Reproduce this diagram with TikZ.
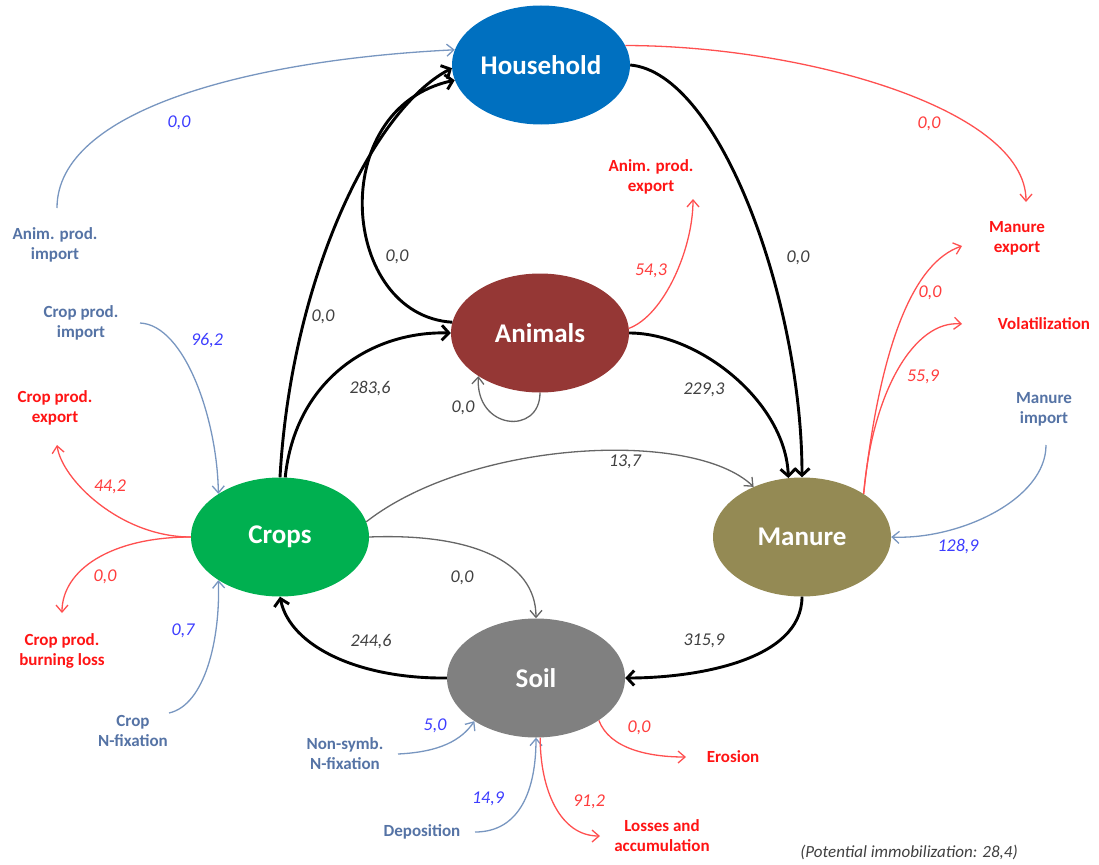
\documentclass[tikz,border=0pt]{standalone}
\usepackage{fontspec}
\setmainfont{Carlito}
\usetikzlibrary{arrows.meta,shapes.geometric}

\definecolor{hhblue}{RGB}{0,112,192}
\definecolor{anired}{RGB}{149,55,53}
\definecolor{cropgreen}{RGB}{0,176,80}
\definecolor{manolive}{RGB}{148,138,84}
\definecolor{soilgray}{RGB}{128,128,128}
\definecolor{inline}{RGB}{120,150,192}
\definecolor{intext}{RGB}{85,115,165}
\definecolor{invalc}{RGB}{60,60,255}
\definecolor{outline}{RGB}{255,80,80}
\definecolor{outtext}{RGB}{255,20,20}
\definecolor{outvalc}{RGB}{255,60,60}
\definecolor{numgray}{RGB}{64,64,64}

\begin{document}
\begin{tikzpicture}[x=1pt,y=-1pt,>={Straight Barb[length=7pt,width=12pt]},
    pool/.style={ellipse,minimum width=178pt,minimum height=119pt,inner sep=0pt,
      text=white,font=\bfseries\fontsize{27}{32}\selectfont},
    src/.style={align=center,text=intext,font=\bfseries\fontsize{17}{20}\selectfont},
    sink/.style={align=center,text=outtext,font=\bfseries\fontsize{17}{20}\selectfont},
    val/.style={font=\itshape\fontsize{18}{20}\selectfont,text=numgray},
    inval/.style={val,text=invalc},
    outval/.style={val,text=outvalc},
    flow/.style={line width=2.9pt,-{Straight Barb[length=7pt,width=15pt]}},
    minor/.style={line width=1.3pt,draw=gray!80!black},
    inflow/.style={line width=1.3pt,draw=inline},
    outflow/.style={line width=1.3pt,draw=outline},
    cc/.style 2 args={to path={.. controls +(#1) and +(#2) .. (\tikztotarget) \tikztonodes}}]
    \useasboundingbox (0,0) rectangle (1099,864);

    \node[pool,fill=hhblue]    (H) at (541,65)  {Household};
    \node[pool,fill=anired]    (A) at (540,333) {Animals};
    \node[pool,fill=cropgreen] (C) at (280,537) {Crops};
    \node[pool,fill=manolive]  (M) at (802,537) {Manure};
    \node[pool,fill=soilgray]  (S) at (536,678) {Soil};

    \node[src]  (aimp) at (55,245)   {Anim. prod.\\import};
    \node[src]  (cimp) at (81,323)   {Crop prod.\\import};
    \node[src]  (cfix) at (133,731)  {Crop\\N-fixation};
    \node[src]  (nfix) at (345,754)  {Non-symb.\\N-fixation};
    \node[src]  (depo) at (422,832)  {Deposition};
    \node[src]  (mimp) at (1044,409) {Manure\\import};
    \node[sink] (aexp) at (651,177)  {Anim. prod.\\export};
    \node[sink] (mexp) at (1017,238) {Manure\\export};
    \node[sink] (vola) at (1044,324) {Volatilization};
    \node[sink] (cexp) at (55,408)   {Crop prod.\\export};
    \node[sink] (burn) at (62,651)   {Crop prod.\\burning loss};
    \node[sink] (eros) at (733,757)  {Erosion};
    \node[sink] (loss) at (662,836)  {Losses and\\accumulation};

    \coordinate (aimpT) at (57,208);
    \coordinate (cimpT) at (140,323);
    \coordinate (cfixT) at (169,713);
    \coordinate (nfixT) at (398,754);
    \coordinate (depoT) at (475,832);
    \coordinate (mimpT) at (1046,445);
    \coordinate (mexpA) at (1026,202);
    \coordinate (aexpT) at (693,199);
    \coordinate (mexpB) at (962,246);
    \coordinate (volaT) at (962,324);
    \coordinate (cexpT) at (57,445);
    \coordinate (burnT) at (62,613);
    \coordinate (erosT) at (686,757);
    \coordinate (lossT) at (600,836);

    \path[->]
      (C.north) edge[flow,cc={11,-197}{-80,42}] (H.182)
      (C.85)    edge[flow,cc={10,-97}{-80,-2}] (A.west)
      (A.173)   edge[flow,cc={-112,-7}{-130,28}] (H.190)
      (H.east)  edge[flow,cc={90,8}{0,-175}] (M.north)
      (A.east)  edge[flow,cc={70,0}{-3,-76}] (M.103)
      (S.west)  edge[flow,cc={-87,1}{10,50}] (C.south)
      (M.south) edge[flow,cc={0,64}{70,0}] (S.east)
      (C.10)    edge[minor,cc={105,-82}{-60,-58}] (M.134)
      (C.east)  edge[minor,cc={100,-4}{0,-58}] (S.north)
      (A.south) edge[minor,cc={0,43}{-3,54}] (A.215)
    ;
    \path[->]
      (aimpT) edge[inflow,cc={0,-98}{-205,10}] (H.170)
      (cimpT) edge[inflow,cc={45,2}{-1,-74}] (C.145)
      (cfixT) edge[inflow,cc={36,-8}{2,59}] (C.215)
      (nfixT) edge[inflow,cc={42,-2}{-13,19}] (S.215)
      (depoT) edge[inflow,cc={45,0}{0,52}] (S.270)
      (mimpT) edge[inflow,cc={0,55}{67,3}] (M.east)
    ;
    \path[->]
      (H.13)   edge[outflow,cc={175,0}{0,-94}] (mexpA)
      (A.3)    edge[outflow,cc={35,-13}{0,50}] (aexpT)
      (M.35)   edge[outflow,cc={17,-154}{-47,16}] (mexpB)
      (M.35)   edge[outflow,cc={9,-104}{-47,-4}] (volaT)
      (C.west) edge[outflow,cc={-70,0}{5,35}] (cexpT)
      (C.west) edge[outflow,cc={-80,0}{0,-43}] (burnT)
      (S.326)  edge[outflow,cc={11,29}{-36,0}] (erosT)
      (S.274)  edge[outflow,cc={0,52}{-40,0}] (lossT)
    ;

    \node[val] (vCH) at (323,317) {0,0};
    \node[val] (vAH) at (397,257) {0,0};
    \node[val] (vCA) at (370,389) {283,6};
    \node[val] (vAA) at (463,408) {0,0};
    \node[val] (vHM) at (798,258) {0,0};
    \node[val] (vAM) at (704,390) {229,3};
    \node[val] (vCM) at (625,462) {13,7};
    \node[val] (vCS) at (462,578) {0,0};
    \node[val] (vSC) at (371,642) {244,6};
    \node[val] (vMS) at (704,641) {315,9};

    \node[inval] (vaimp) at (179,123) {0,0};
    \node[inval] (vcimp) at (207,341) {96,2};
    \node[inval] (vcfix) at (183,631) {0,7};
    \node[inval] (vnfix) at (435,726) {5,0};
    \node[inval] (vdepo) at (488,799) {14,9};
    \node[inval] (vmimp) at (958,547) {128,9};

    \node[outval] (vmexpA) at (929,124) {0,0};
    \node[outval] (vaexp)  at (651,271) {54,3};
    \node[outval] (vmexpB) at (930,293) {0,0};
    \node[outval] (vvola)  at (923,377) {55,9};
    \node[outval] (vcexp)  at (110,487) {44,2};
    \node[outval] (vburn)  at (105,577) {0,0};
    \node[outval] (veros)  at (639,728) {0,0};
    \node[outval] (vloss)  at (589,802) {91,2};

    \node[font=\itshape\fontsize{17}{20}\selectfont,text=numgray] (note) at (909,852)
      {(Potential immobilization: 28,4)};
\end{tikzpicture}
\end{document}
